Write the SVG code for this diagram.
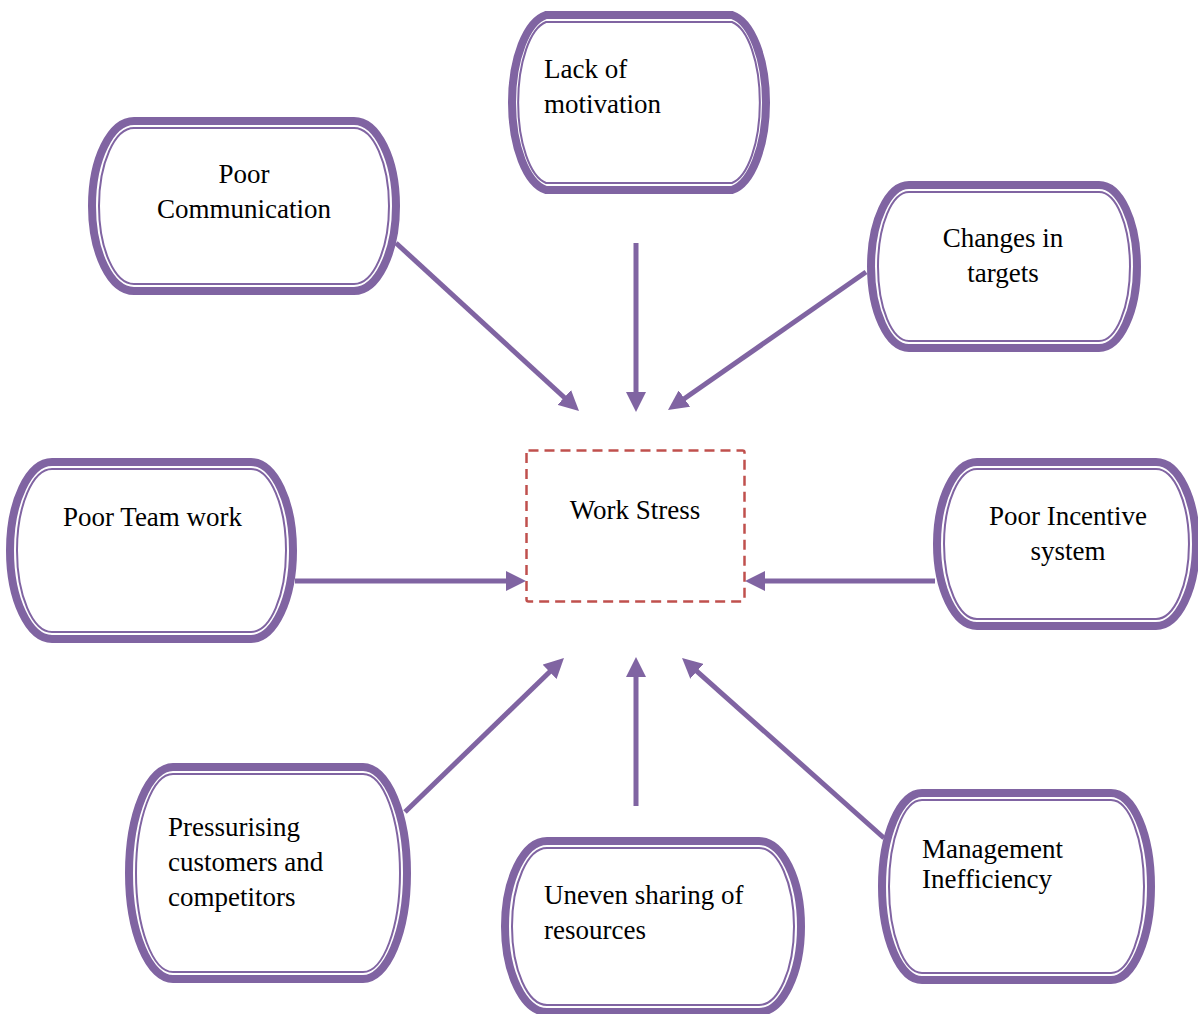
<svg xmlns="http://www.w3.org/2000/svg" width="1198" height="1014" viewBox="0 0 1198 1014">
<style>
.outer{fill:#fff;stroke:#8064a2;stroke-width:8}
.inner{fill:none;stroke:#8064a2;stroke-width:2}
.t{font-family:"Liberation Serif","Times New Roman",serif;font-size:27px;fill:#000}
.c{text-anchor:middle}
.conn{stroke:#8064a2;stroke-width:5;fill:none;marker-end:url(#ah)}
.ws{fill:#fff;stroke:#c0504d;stroke-width:2.5;stroke-dasharray:10 6}
</style>
<defs>
<marker id="ah" markerUnits="userSpaceOnUse" markerWidth="20" markerHeight="20" refX="6" refY="10" orient="auto">
<path d="M0,0 L20,10 L0,20 Z" fill="#8064a2"/>
</marker>
</defs>
<rect width="1198" height="1014" fill="#fff"/>

<g id="connectors">
<line class="conn" x1="396" y1="243" x2="568.7" y2="401.5"/>
<line class="conn" x1="636" y1="243" x2="636" y2="398"/>
<line class="conn" x1="866" y1="272" x2="679.5" y2="402"/>
<line class="conn" x1="295" y1="581" x2="512" y2="581"/>
<line class="conn" x1="935" y1="581" x2="759" y2="581"/>
<line class="conn" x1="405" y1="812" x2="553.9" y2="667.7"/>
<line class="conn" x1="636" y1="806" x2="636" y2="671"/>
<line class="conn" x1="884" y1="838" x2="692.5" y2="667.3"/>
</g>

<g id="lack-of-motivation">
<path class="outer" d="M546,15 H732 A40,88.5 0 0 1 732,190 H546 A40,88.5 0 0 1 546,15 Z"/>
<path class="inner" d="M546,22 H732 A33,81.5 0 0 1 732,183 H546 A33,81.5 0 0 1 546,22 Z"/>
<text class="t" x="544" y="78">Lack of</text>
<text class="t" x="544" y="113">motivation</text>
</g>

<g id="poor-communication">
<path class="outer" d="M134,121 H354 A42,85 0 0 1 354,291 H134 A42,85 0 0 1 134,121 Z"/>
<path class="inner" d="M134,128 H354 A35,78 0 0 1 354,284 H134 A35,78 0 0 1 134,128 Z"/>
<text class="t c" x="244" y="183">Poor</text>
<text class="t c" x="244" y="218">Communication</text>
</g>

<g id="changes-in-targets">
<path class="outer" d="M909,185 H1099 A38,81.5 0 0 1 1099,348 H909 A38,81.5 0 0 1 909,185 Z"/>
<path class="inner" d="M909,192 H1099 A31,74.5 0 0 1 1099,341 H909 A31,74.5 0 0 1 909,192 Z"/>
<text class="t c" x="1003" y="247">Changes in</text>
<text class="t c" x="1003" y="282">targets</text>
</g>

<g id="poor-team-work">
<path class="outer" d="M52,462 H251 A42,88.5 0 0 1 251,639 H52 A42,88.5 0 0 1 52,462 Z"/>
<path class="inner" d="M52,469 H251 A35,81.5 0 0 1 251,632 H52 A35,81.5 0 0 1 52,469 Z"/>
<text class="t" x="63" y="526">Poor Team work</text>
</g>

<g id="work-stress">
<rect class="ws" x="526.5" y="450.5" width="218" height="151" rx="2"/>
<text class="t c" x="635" y="519">Work Stress</text>
</g>

<g id="poor-incentive-system">
<path class="outer" d="M977,462 H1156 A40,82 0 0 1 1156,626 H977 A40,82 0 0 1 977,462 Z"/>
<path class="inner" d="M977,469 H1156 A33,75 0 0 1 1156,619 H977 A33,75 0 0 1 977,469 Z"/>
<text class="t c" x="1068" y="525">Poor Incentive</text>
<text class="t c" x="1068" y="560">system</text>
</g>

<g id="pressurising-customers">
<path class="outer" d="M173,767 H363 A44,106 0 0 1 363,979 H173 A44,106 0 0 1 173,767 Z"/>
<path class="inner" d="M173,774 H363 A37,99 0 0 1 363,972 H173 A37,99 0 0 1 173,774 Z"/>
<text class="t" x="168" y="836">Pressurising</text>
<text class="t" x="168" y="871">customers and</text>
<text class="t" x="168" y="906">competitors</text>
</g>

<g id="uneven-sharing">
<path class="outer" d="M547,841 H759 A42,85.5 0 0 1 759,1012 H547 A42,85.5 0 0 1 547,841 Z"/>
<path class="inner" d="M547,848 H759 A35,78.5 0 0 1 759,1005 H547 A35,78.5 0 0 1 547,848 Z"/>
<text class="t" x="544" y="904">Uneven sharing of</text>
<text class="t" x="544" y="939">resources</text>
</g>

<g id="management-inefficiency">
<path class="outer" d="M922,793 H1111 A40,93.5 0 0 1 1111,980 H922 A40,93.5 0 0 1 922,793 Z"/>
<path class="inner" d="M922,800 H1111 A33,86.5 0 0 1 1111,973 H922 A33,86.5 0 0 1 922,800 Z"/>
<text class="t" x="922" y="858">Management</text>
<text class="t" x="922" y="888">Inefficiency</text>
</g>
</svg>
